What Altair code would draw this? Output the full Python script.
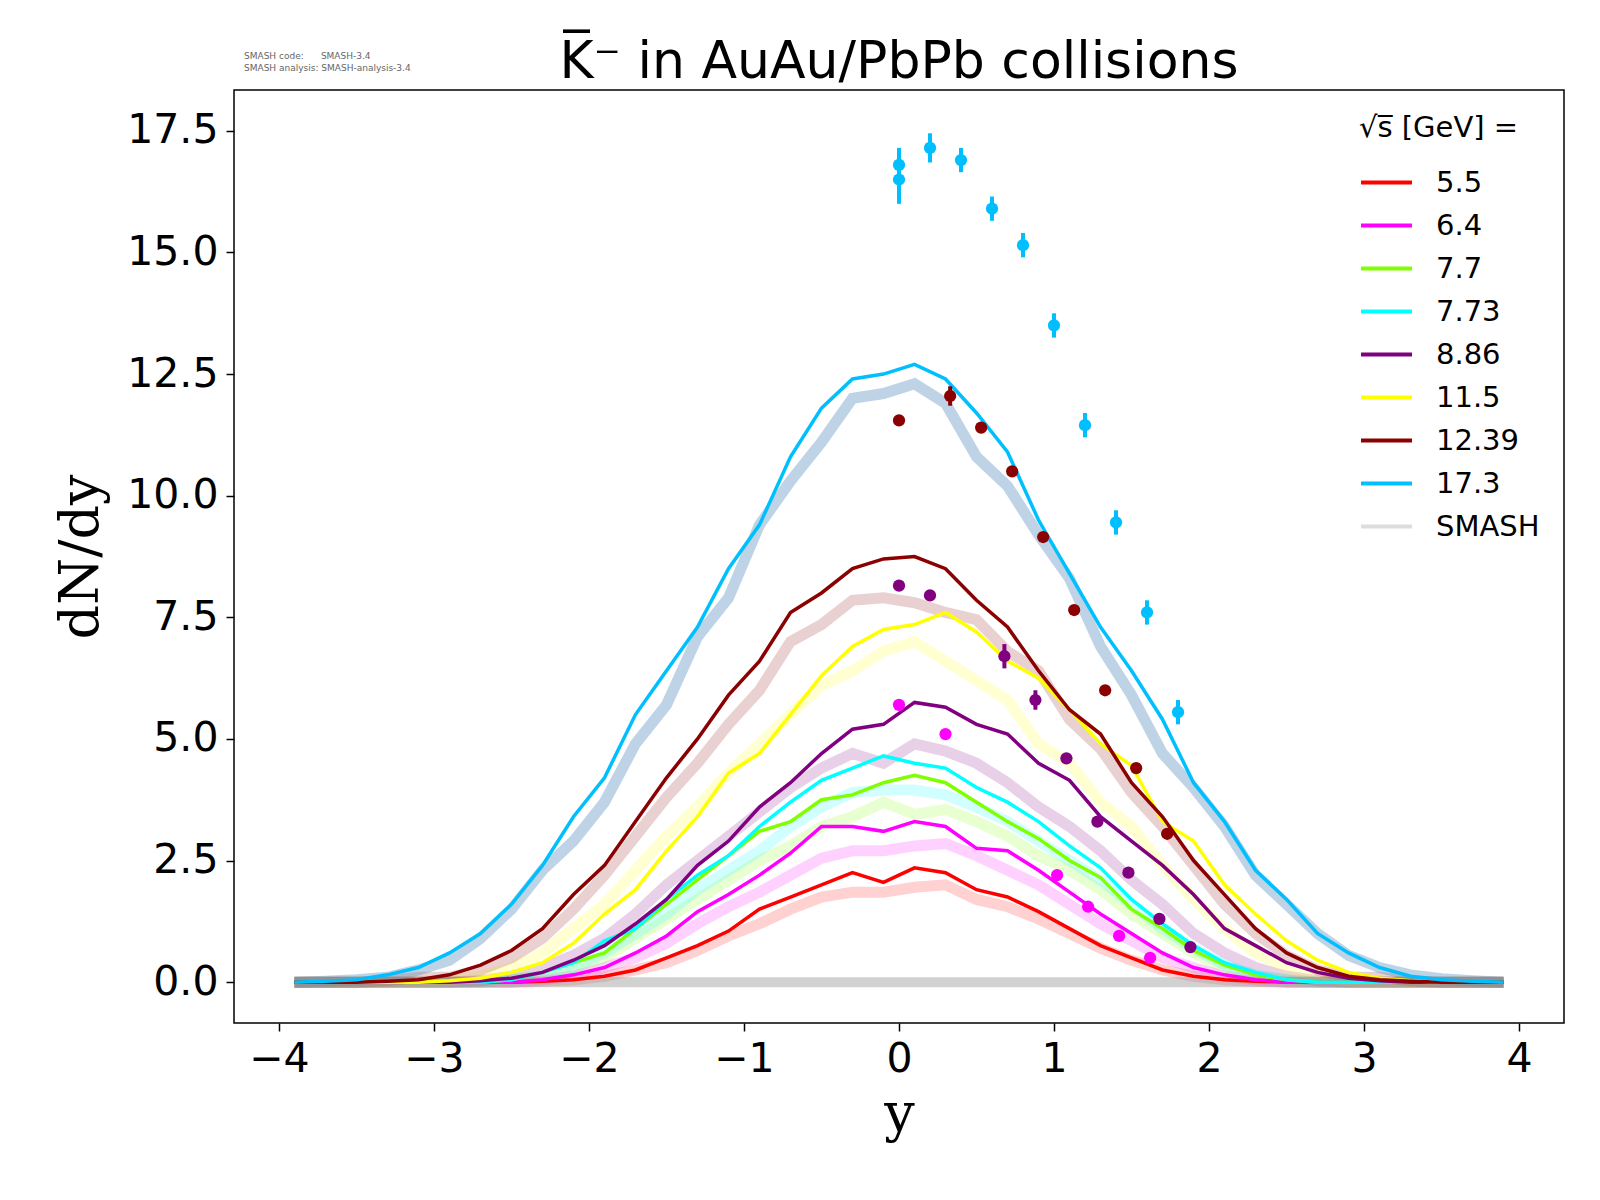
import pandas as pd
import altair as alt

# rapidity grid of the SMASH output
y_grid = [round(-3.9 + 0.2 * i, 1) for i in range(40)]

energies = ["5.5", "6.4", "7.7", "7.73", "8.86", "11.5", "12.39", "17.3"]
colors = ["#ff0000", "#ff00ff", "#7fff00", "#00ffff", "#800080", "#ffff00", "#8b0000", "#00bfff"]

Z8 = [0] * 8
# model curves (left half -3.9..-0.1, right half 0.1..3.9)
lines = {
    "5.5": [0] * 8 + [0.02, 0.05, 0.12, 0.25, 0.5, 0.75, 1.05, 1.5, 1.75, 2.0, 2.25, 2.05]
           + [2.35, 2.25, 1.9, 1.75, 1.45, 1.1, 0.75, 0.5, 0.25, 0.12, 0.05, 0.02] + Z8,
    "6.4": [0] * 8 + [0.05, 0.15, 0.3, 0.6, 0.95, 1.45, 1.8, 2.2, 2.65, 3.2, 3.2, 3.1]
           + [3.3, 3.2, 2.75, 2.7, 2.3, 1.85, 1.4, 1.0, 0.6, 0.3, 0.15, 0.05] + Z8,
    "7.7": [0] * 7 + [0.05, 0.2, 0.4, 0.6, 1.1, 1.6, 2.1, 2.6, 3.1, 3.3, 3.75, 3.85, 4.1]
           + [4.25, 4.1, 3.7, 3.3, 2.95, 2.5, 2.15, 1.5, 1.1, 0.65, 0.35, 0.15, 0.05] + [0] * 7,
    "7.73": [0] * 7 + [0.05, 0.2, 0.4, 0.85, 1.1, 1.7, 2.2, 2.6, 3.2, 3.7, 4.15, 4.4, 4.65]
            + [4.5, 4.4, 4.0, 3.7, 3.3, 2.8, 2.35, 1.7, 1.2, 0.75, 0.4, 0.2, 0.05] + [0] * 7,
    "8.86": [0] * 6 + [0.03, 0.08, 0.2, 0.45, 0.75, 1.2, 1.7, 2.4, 2.9, 3.6, 4.1, 4.7, 5.2, 5.3]
            + [5.75, 5.65, 5.3, 5.1, 4.5, 4.15, 3.4, 2.9, 2.4, 1.8, 1.1, 0.75, 0.4, 0.2] + [0.08, 0.03] + [0] * 4,
    "11.5": [0] * 5 + [0.03, 0.08, 0.2, 0.4, 0.8, 1.4, 1.9, 2.7, 3.4, 4.3, 4.7, 5.5, 6.3, 6.9, 7.25]
            + [7.35, 7.6, 7.2, 6.6, 6.25, 5.6, 4.9, 4.45, 3.3, 2.9, 2.0, 1.4, 0.85, 0.45, 0.2] + [0.08, 0.03, 0, 0, 0],
    "12.39": [0, 0, 0, 0.02, 0.05, 0.15, 0.35, 0.65, 1.1, 1.8, 2.4, 3.3, 4.2, 5.0, 5.9, 6.6, 7.6, 8.0, 8.5, 8.7]
             + [8.75, 8.5, 7.85, 7.3, 6.4, 5.6, 5.1, 4.1, 3.4, 2.5, 1.8, 1.1, 0.6, 0.3, 0.12, 0.05, 0.02, 0, 0, 0],
    "17.3": [0, 0.02, 0.05, 0.15, 0.3, 0.6, 1.0, 1.6, 2.4, 3.4, 4.2, 5.5, 6.4, 7.3, 8.5, 9.4, 10.8, 11.8, 12.4, 12.5]
            + [12.7, 12.4, 11.7, 10.9, 9.5, 8.4, 7.3, 6.4, 5.4, 4.1, 3.3, 2.3, 1.7, 1.0, 0.6, 0.3, 0.12, 0.05, 0.02, 0],
}

# SMASH reference bands
bands = {
    "5.5": [0] * 8 + [0.02, 0.05, 0.12, 0.25, 0.4, 0.65, 0.95, 1.2, 1.5, 1.75, 1.85, 1.85]
           + [1.95, 2.0, 1.7, 1.55, 1.3, 1.0, 0.7, 0.45, 0.25, 0.12, 0.05, 0.02] + Z8,
    "6.4": [0] * 8 + [0.05, 0.12, 0.3, 0.5, 0.8, 1.2, 1.55, 1.85, 2.2, 2.55, 2.7, 2.7]
           + [2.8, 2.85, 2.6, 2.3, 2.0, 1.6, 1.2, 0.85, 0.5, 0.3, 0.12, 0.05] + Z8,
    "7.7": [0] * 7 + [0.05, 0.12, 0.3, 0.5, 0.9, 1.3, 1.7, 2.1, 2.5, 2.8, 3.2, 3.4, 3.7]
           + [3.45, 3.55, 3.3, 3.0, 2.6, 2.3, 1.9, 1.4, 1.0, 0.6, 0.3, 0.12, 0.05] + [0] * 7,
    "7.73": [0] * 7 + [0.05, 0.12, 0.3, 0.6, 1.0, 1.4, 1.9, 2.3, 2.7, 3.2, 3.6, 3.9, 3.95]
            + [3.95, 3.85, 3.6, 3.3, 2.9, 2.5, 2.1, 1.6, 1.1, 0.7, 0.35, 0.15, 0.05] + [0] * 7,
    "8.86": [0] * 6 + [0.03, 0.12, 0.3, 0.55, 0.9, 1.4, 2.0, 2.5, 3.0, 3.5, 4.0, 4.4, 4.7, 4.5]
            + [4.9, 4.75, 4.5, 4.1, 3.6, 3.2, 2.7, 2.1, 1.6, 1.0, 0.6, 0.3, 0.12, 0.03] + [0] * 6,
    "11.5": [0] * 5 + [0.03, 0.12, 0.3, 0.6, 1.1, 1.6, 2.3, 3.0, 3.6, 4.3, 4.9, 5.5, 6.1, 6.4, 6.8]
            + [7.0, 6.6, 6.2, 5.8, 4.9, 4.5, 3.7, 3.2, 2.4, 1.7, 1.1, 0.6, 0.3, 0.12, 0.03] + [0] * 5,
    "12.39": [0, 0, 0, 0.03, 0.1, 0.1, 0.25, 0.5, 0.9, 1.5, 2.2, 3.0, 3.8, 4.5, 5.3, 6.0, 7.0, 7.35, 7.85, 7.9]
             + [7.8, 7.6, 7.45, 6.8, 6.4, 5.4, 4.8, 3.9, 3.2, 2.4, 1.6, 1.0, 0.55, 0.25, 0.1, 0.1, 0.03, 0, 0, 0],
    "17.3": [0, 0.02, 0.05, 0.1, 0.25, 0.45, 0.9, 1.5, 2.3, 2.9, 3.7, 4.9, 5.7, 7.1, 7.9, 9.4, 10.3, 11.1, 12.0, 12.1]
            + [12.3, 11.9, 10.8, 10.2, 9.2, 8.3, 6.9, 5.9, 4.7, 4.0, 3.2, 2.2, 1.6, 1.0, 0.55, 0.3, 0.15, 0.07, 0.03, 0],
}

# experimental points
exp_energy = (["17.3"] * 11 + ["12.39"] * 9 + ["8.86"] * 9 + ["6.4"] * 6)
exp_y = ([0.0, 0.0, 0.2, 0.4, 0.6, 0.8, 1.0, 1.2, 1.4, 1.6, 1.8]
         + [0.0, 0.33, 0.53, 0.73, 0.93, 1.13, 1.33, 1.53, 1.73]
         + [0.0, 0.2, 0.68, 0.88, 1.08, 1.28, 1.48, 1.68, 1.88]
         + [0.0, 0.3, 1.02, 1.22, 1.42, 1.62])
exp_val = ([16.8, 16.5, 17.15, 16.9, 15.9, 15.15, 13.5, 11.45, 9.45, 7.6, 5.55]
           + [11.55, 12.05, 11.4, 10.5, 9.15, 7.65, 6.0, 4.4, 3.05]
           + [8.15, 7.95, 6.7, 5.8, 4.6, 3.3, 2.25, 1.3, 0.72]
           + [5.7, 5.1, 2.2, 1.55, 0.95, 0.5])
exp_err = ([0.35, 0.5, 0.3, 0.25, 0.25, 0.25, 0.25, 0.25, 0.25, 0.25, 0.25]
           + [0.05, 0.2, 0.1, 0.1, 0.05, 0.05, 0.05, 0.05, 0.05]
           + [0.1, 0.1, 0.25, 0.2, 0.1, 0.1, 0.05, 0.05, 0.05]
           + [0.05] * 6)

rows_l, rows_b = [], []
for e in energies:
    assert len(lines[e]) == 40 and len(bands[e]) == 40, e
    for i, yy in enumerate(y_grid):
        rows_l.append({"y": yy, "v": lines[e][i], "E": e})
        rows_b.append({"y": yy, "v": bands[e][i], "E": e})
df_l = pd.DataFrame(rows_l)
df_b = pd.DataFrame(rows_b)
df_e = pd.DataFrame({"E": exp_energy, "y": exp_y, "v": exp_val, "err": exp_err})
df_e["lo"] = df_e["v"] - df_e["err"]
df_e["hi"] = df_e["v"] + df_e["err"]

W, H = 1330, 933
xs = alt.Scale(domain=[-4.29, 4.29], nice=False, zero=False)
ys = alt.Scale(domain=[-0.84, 18.34], nice=False, zero=False)
X = alt.X("y:Q", scale=xs, title="y",
          axis=alt.Axis(values=[-4, -3, -2, -1, 0, 1, 2, 3, 4], format="d", grid=False))
Y = alt.Y("v:Q", scale=ys, title="dN/dy",
          axis=alt.Axis(values=[0, 2.5, 5, 7.5, 10, 12.5, 15, 17.5], format=".1f", grid=False))

band_colors = colors[:7] + ["#4682b4"]
bandc = alt.Color("E:N", scale=alt.Scale(domain=energies, range=band_colors), legend=None)

band = alt.Chart(df_b).mark_line(strokeWidth=11, opacity=0.18).encode(
    x=X, y=Y, color=bandc, detail="E:N"
).transform_filter(alt.datum.E != "17.3")
band_blue = alt.Chart(df_b).mark_line(strokeWidth=11, opacity=0.35).encode(
    x=X, y=Y, color=bandc
).transform_filter(alt.datum.E == "17.3")
# flat gray baseline where all bands overlap at zero
base = alt.Chart(df_b).mark_line(strokeWidth=10, color="#999999", opacity=0.45).encode(
    x=X, y=Y
).transform_filter((alt.datum.E == "17.3") & (alt.datum.v == 0))

leg_dom = energies + ["SMASH"]
leg_rng = colors + ["#dddddd"]
linec = alt.Color("E:N", scale=alt.Scale(domain=leg_dom, range=leg_rng),
                  sort=leg_dom,
                  legend=alt.Legend(title="√s̅  [GeV] =", orient="top-right", symbolType="stroke",
                                    symbolStrokeWidth=4, symbolSize=2600, labelFontSize=29,
                                    titleFontSize=29, titleFontWeight="normal", labelFont="DejaVu Sans",
                                    titleFont="DejaVu Sans", rowPadding=-8, padding=10,
                                    labelOffset=22, titleLimit=400, offset=14, titlePadding=12))
curve = alt.Chart(df_l).mark_line(strokeWidth=3.5).encode(x=X, y=Y, color=linec)

expc = alt.Color("E:N", scale=alt.Scale(domain=energies, range=colors), legend=None)
err = alt.Chart(df_e).mark_rule(strokeWidth=4).encode(
    x="y:Q", y="lo:Q", y2="hi:Q", color=expc)
pts = alt.Chart(df_e).mark_point(filled=True, size=150, opacity=1).encode(
    x="y:Q", y="v:Q", color=expc)

NB = "\u00a0"
info_text = ["SMASH code:" + NB * 6 + "SMASH-3.4", "SMASH analysis: SMASH-analysis-3.4"]
info_df = pd.DataFrame({"t": info_text, "r": [0, 1]})
info = alt.Chart(info_df).mark_text(align="left", fontSize=9, color="#666666",
                                    font="DejaVu Sans").encode(
    x=alt.value(10), y=alt.value(-34), text="t:N"
).transform_filter(alt.datum.r == 0)
info2 = alt.Chart(info_df).mark_text(align="left", fontSize=9, color="#666666",
                                     font="DejaVu Sans").encode(
    x=alt.value(10), y=alt.value(-22), text="t:N"
).transform_filter(alt.datum.r == 1)

title_df = pd.DataFrame({"t": ["K̅⁻ in AuAu/PbPb collisions"]})
title = alt.Chart(title_df).mark_text(fontSize=52, font="DejaVu Sans", baseline="alphabetic",
                                      align="center", color="black").encode(
    x=alt.value(W / 2), y=alt.value(-12), text="t:N")

chart = alt.layer(band, band_blue, base, curve, err, pts, info, info2, title).resolve_scale(
    color="independent"
).properties(
    width=W, height=H,
    padding={"left": 46, "top": 28, "right": 5, "bottom": 5},
    background="white",
).configure_view(stroke="black", strokeWidth=1.5).configure_axis(
    labelFontSize=41, labelFont="DejaVu Sans", labelColor="black",
    titleFont="DejaVu Serif", titleFontSize=54, titleFontWeight="normal", titleColor="black",
    domain=False, tickColor="black", tickSize=8, tickWidth=1.5, labelPadding=8
).configure_axisY(titlePadding=18).configure_axisX(titlePadding=8)

chart.save("out.html", embed_options={"renderer": "svg", "actions": False})
